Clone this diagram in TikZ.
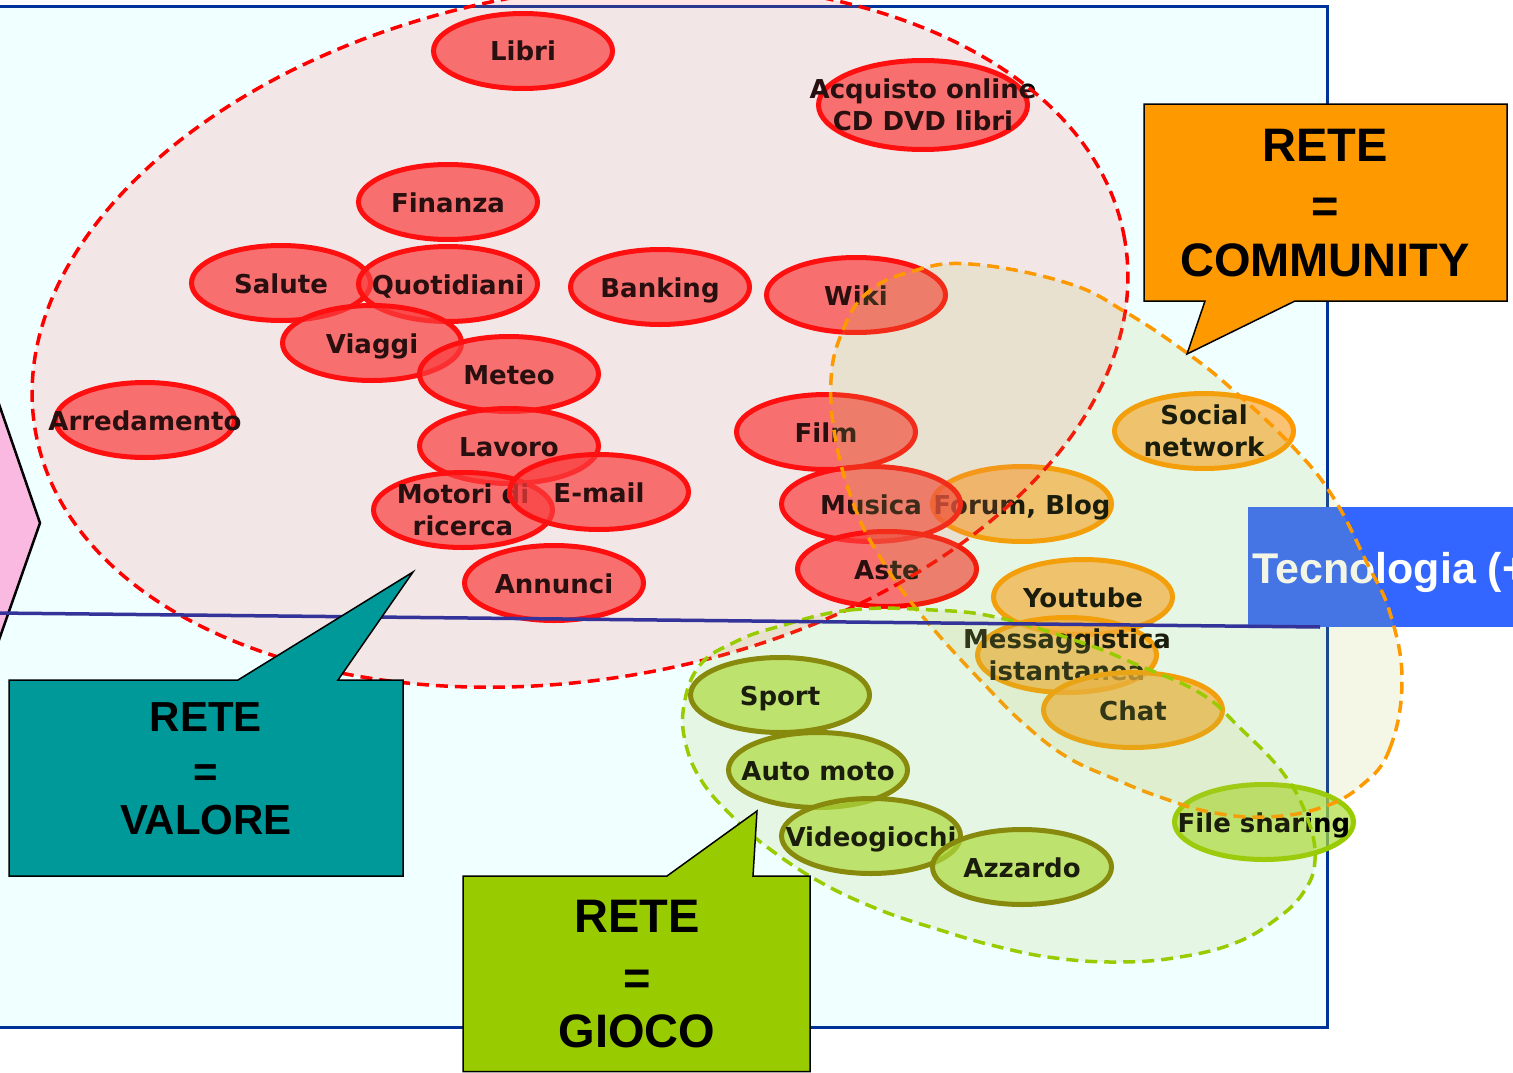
\documentclass[tikz,border=0pt]{standalone}
\usepackage{fontspec}
\usetikzlibrary{shapes.geometric}
\newfontfamily\nodefont{DejaVu Sans}
\newfontfamily\calfont{Liberation Sans}

\definecolor{boxbg}{RGB}{240,255,255}
\definecolor{boxline}{RGB}{0,51,153}
\definecolor{axisline}{RGB}{51,51,153}
\definecolor{chevron}{RGB}{250,185,225}
\definecolor{redfill}{RGB}{250,55,55}
\definecolor{orfill}{RGB}{255,170,58}
\definecolor{grfill}{RGB}{174,221,58}
\definecolor{orline}{RGB}{255,153,0}
\definecolor{oliveline}{RGB}{128,128,0}
\definecolor{limeline}{RGB}{153,204,0}
\definecolor{techblue}{RGB}{51,102,255}
\definecolor{tealbox}{RGB}{0,153,153}
\definecolor{zonered}{RGB}{255,100,100}
\definecolor{zonetint}{RGB}{178,199,82}

\tikzset{
  bub/.style={ellipse, draw, line width=5pt, minimum width=179pt,
    minimum height=75pt, inner sep=0pt, fill opacity=0.7},
  redbub/.style={bub, draw=red, fill=redfill},
  orbub/.style={bub, draw=orline, fill=orfill},
  grbub/.style={bub, draw=oliveline, fill=grfill},
  lab/.style={font=\nodefont\bfseries\fontsize{26}{32}\selectfont,
    text height=20pt, text depth=0pt, inner sep=0pt, text=black, text opacity=1},
  labm/.style={font=\nodefont\bfseries\fontsize{26}{32}\selectfont,
    align=center, inner sep=0pt, text=black, text opacity=1},
  zone/.style={line width=3.5pt, dash pattern=on 12pt off 7pt},
  callout/.style={draw=black, line width=1.5pt},
  caltext/.style={align=center, inner sep=0pt, text=black},
}

\begin{document}
\begin{tikzpicture}[x=1pt, y=-1pt]
\useasboundingbox (0,0) rectangle (1513,1073);

% background panel and side arrow
\draw[boxline, fill=boxbg, line width=3pt] (-10,7) rectangle (1327,1027);
\filldraw[fill=chevron, draw=black, line width=2.5pt] (-60,233) -- (40,523) -- (-60,808) -- cycle;

% technology banner
\fill[techblue] (1248,507) rectangle (1560,627);
\node[anchor=base west, inner sep=0pt, text=white,
  font=\calfont\bfseries\fontsize{43}{50}\selectfont] (tech) at (1252,583) {Tecnologia (+};

% red topics
\node[redbub, label={[lab]center:Libri}] (libri) at (523,51) {};
\node[redbub, minimum width=209pt, minimum height=89pt,
  label={[labm]center:Acquisto online\\CD DVD libri}] (acquisto) at (923,105) {};
\node[redbub, label={[lab]center:Finanza}] (finanza) at (448,202) {};
\node[redbub, label={[lab]center:Salute}] (salute) at (281,283) {};
\node[redbub, label={[lab]center:Quotidiani}] (quotidiani) at (448,284) {};
\node[redbub, label={[lab]center:Banking}] (banking) at (660,287) {};
\node[redbub, label={[lab]center:Wiki}] (wiki) at (856,295) {};
\node[redbub, label={[lab]center:Viaggi}] (viaggi) at (372,343) {};
\node[redbub, label={[lab]center:Meteo}] (meteo) at (509,374) {};
\node[redbub, label={[lab]center:Arredamento}] (arredamento) at (145,420) {};
\node[redbub, label={[lab]center:Lavoro}] (lavoro) at (509,446) {};
\node[redbub, label={[labm]center:Motori di\\ricerca}] (motori) at (463,510) {};
\node[redbub, label={[lab]center:E-mail}] (email) at (599,492) {};
\node[redbub, label={[lab]center:Annunci}] (annunci) at (554,583) {};
\node[redbub, label={[lab]center:Film}] (film) at (826,432) {};
\node[orbub, label={[lab]center:{Forum, Blog}}] (forum) at (1022,504) {};
\node[redbub, label={[lab]center:Musica}] (musica) at (871,504) {};
\node[redbub, label={[lab]center:Aste}] (aste) at (887,569) {};

% orange topics
\node[orbub, label={[labm]center:Social\\network}] (social) at (1204,431) {};
\node[orbub, label={[lab]center:Youtube}] (youtube) at (1083,597) {};
\node[orbub, label={[labm]center:Messaggistica\\istantanea}] (messaggi) at (1067,655) {};
\node[orbub, label={[lab]center:Chat}] (chat) at (1133,710) {};

% green topics
\node[bub, draw=limeline, fill=grfill, label={[lab]center:File sharing}] (file) at (1264,822) {};
\node[grbub, label={[lab]center:Sport}] (sport) at (780,695) {};
\node[grbub, label={[lab]center:Auto moto}] (auto) at (818,770) {};
\node[grbub, label={[lab]center:Videogiochi}] (video) at (871,836) {};
\node[grbub, label={[lab]center:Azzardo}] (azzardo) at (1022,867) {};

% dashed zones
\draw[zone, draw=red, fill=zonered, fill opacity=0.16, rotate around={10:(580,335)}]
  (580,335) ellipse (553pt and 344pt);
\draw[zone, draw=orline, fill=zonetint, fill opacity=0.15]
  plot[smooth cycle, tension=0.7] coordinates {
  (1402,680) (1390,748) (1362,785) (1320,808) (1265,817) (1210,812) (1160,797)
  (1117,780) (1067,757) (1023,723) (983,683) (943,640) (907,597) (880,557)
  (857,513) (837,447) (831,380) (843,330) (867,293) (910,272) (970,264)
  (1067,283) (1127,313) (1187,353) (1233,390) (1293,447) (1333,497)
  (1367,563) (1390,613)};
\draw[zone, draw=limeline, fill=zonetint, fill opacity=0.15]
  plot[smooth cycle, tension=0.7] coordinates {
  (777,627) (850,610) (933,610) (1000,618) (1083,643) (1133,663) (1200,693)
  (1240,728) (1283,773) (1307,817) (1315,860) (1303,893) (1275,920)
  (1235,943) (1180,957) (1120,962) (1055,958) (995,946) (940,930)
  (880,910) (820,882) (767,847) (733,817) (703,783) (686,745) (684,705)
  (700,665) (735,642)};

% dividing line
\coordinate (lineL) at (-5,613);
\coordinate (lineR) at (1320,627);
\draw[axisline, line width=3.5pt] (lineL) -- (lineR);

% callouts
\filldraw[callout, fill=orline] (1144,104) -- (1507,104) -- (1507,301) -- (1295,301)
  -- (1187,354) -- (1205,301) -- (1144,301) -- cycle;
\node[caltext, font=\calfont\bfseries\fontsize{47}{57.5}\selectfont]
  (community) at (1325,202.6) {RETE\\[4pt]=\\[-4pt]COMMUNITY};

\filldraw[callout, fill=tealbox] (9,680) -- (238,680) -- (413,572) -- (338,680)
  -- (403,680) -- (403,876) -- (9,876) -- cycle;
\node[caltext, font=\calfont\bfseries\fontsize{42}{51.5}\selectfont]
  (valore) at (206,768.5) {RETE\\[4pt]=\\[-4pt]VALORE};

\filldraw[callout, fill=limeline] (463,876) -- (667,876) -- (757,811) -- (753,876)
  -- (810,876) -- (810,1071.5) -- (463,1071.5) -- cycle;
\node[caltext, font=\calfont\bfseries\fontsize{47}{57.5}\selectfont]
  (gioco) at (637,973.6) {RETE\\[5pt]=\\[-5pt]GIOCO};
\end{tikzpicture}
\end{document}
